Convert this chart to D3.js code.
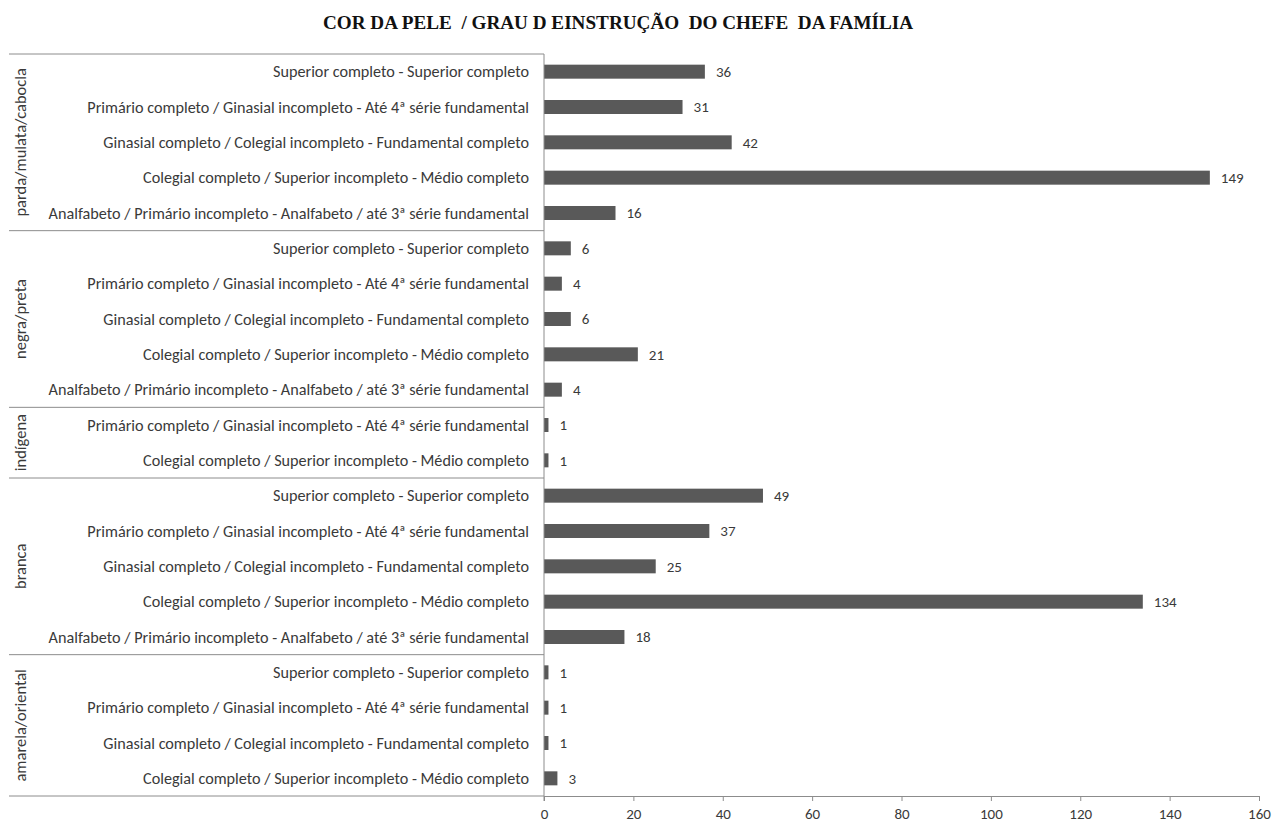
<!DOCTYPE html>
<html><head><meta charset="utf-8">
<script src="https://cdn.jsdelivr.net/npm/d3@7"></script>
<style>body{margin:0;background:#fff}svg{display:block}</style>
</head><body><svg id="c" width="1274" height="823"></svg>
<script>
const title = "COR DA PELE  / GRAU D EINSTRUÇÃO  DO CHEFE  DA FAMÍLIA";
const groups = ["parda/mulata/cabocla", "negra/preta", "indígena", "branca", "amarela/oriental"];
const SUP = "Superior completo - Superior completo";
const PRI = "Primário completo / Ginasial incompleto - Até 4ª série fundamental";
const GIN = "Ginasial completo / Colegial incompleto - Fundamental completo";
const COL = "Colegial completo / Superior incompleto - Médio completo";
const ANA = "Analfabeto / Primário incompleto - Analfabeto / até 3ª série fundamental";
const pardaCats = [SUP, PRI, GIN, COL, ANA];
const pardaVals = [36, 31, 42, 149, 16];
const negraCats = [SUP, PRI, GIN, COL, ANA];
const negraVals = [6, 4, 6, 21, 4];
const indigenaCats = [PRI, COL];
const indigenaVals = [1, 1];
const brancaCats = [SUP, PRI, GIN, COL, ANA];
const brancaVals = [49, 37, 25, 134, 18];
const amarelaCats = [SUP, PRI, GIN, COL];
const amarelaVals = [1, 1, 1, 3];
const xTicks = [0, 20, 40, 60, 80, 100, 120, 140, 160];

(function () {
const groupCats = [pardaCats, negraCats, indigenaCats, brancaCats, amarelaCats];
const groupVals = [pardaVals, negraVals, indigenaVals, brancaVals, amarelaVals];
const rows = [];
groups.forEach((g, gi) => groupCats[gi].forEach((c, ci) => rows.push({g, c, v: groupVals[gi][ci], key: g + "|" + c})));

const svg = d3.select("#c");
const pLeft = 544, pRight = 1259, pTop = 54, pBottom = 796, outerLeft = 9;
const x = d3.scaleLinear().domain([0, 160]).range([pLeft, pRight]);
const y = d3.scaleBand().domain(rows.map(r => r.key)).range([pTop, pBottom]).paddingInner(0.6).paddingOuter(0.3);
const step = y.step(), bw = y.bandwidth();
const cy = k => y(k) + bw / 2;
const font = "Calibri, Carlito, 'Open Sans', sans-serif";
const txt = "#3a3a3a";

svg.append("text").attr("x", 618).attr("y", 29).attr("text-anchor", "middle")
  .attr("font-family", "'Liberation Serif', 'Times New Roman', serif").attr("font-weight", "bold")
  .attr("font-size", 18.5).attr("fill", "#111").style("white-space", "pre")
  .attr("textLength", 590).attr("lengthAdjust", "spacingAndGlyphs").text(title);

svg.selectAll("rect.bar").data(rows).join("rect").attr("class", "bar")
  .attr("x", x(0)).attr("y", d => cy(d.key) - 7).attr("height", 14)
  .attr("width", d => x(d.v) - x(0)).attr("fill", "#595959");

svg.selectAll("text.val").data(rows).join("text").attr("class", "val")
  .attr("x", d => x(d.v) + 11).attr("y", d => cy(d.key))
  .attr("dy", "0.35em").attr("font-family", font).attr("font-size", 15).attr("fill", txt)
  .text(d => d.v);

svg.selectAll("text.cat").data(rows).join("text").attr("class", "cat")
  .attr("x", pLeft - 15).attr("y", d => cy(d.key))
  .attr("dy", "0.35em").attr("text-anchor", "end").attr("font-family", font)
  .attr("font-size", 16.2).attr("fill", txt).text(d => d.c);

const line = "#8c8c8c";
let idx = 0;
const bounds = [];
groups.forEach((g, gi) => {
  const first = rows[idx].key;
  const last = rows[idx + groupCats[gi].length - 1].key;
  idx += groupCats[gi].length;
  bounds.push({g, y0: cy(first) - step / 2, y1: cy(last) + step / 2});
});
svg.selectAll("line.sep").data(bounds.map(b => b.y0).concat([bounds[bounds.length - 1].y1])).join("line").attr("class", "sep")
  .attr("x1", outerLeft).attr("x2", pLeft).attr("y1", d => d).attr("y2", d => d)
  .attr("stroke", line).attr("stroke-width", 1);
svg.selectAll("text.grp").data(bounds).join("text").attr("class", "grp")
  .attr("transform", d => `translate(26,${(d.y0 + d.y1) / 2}) rotate(-90)`)
  .attr("text-anchor", "middle").attr("font-family", font).attr("font-size", 16.5).attr("fill", txt)
  .text(d => d.g);

const xAxis = d3.axisBottom(x).tickValues(xTicks).tickSize(5).tickPadding(7);
const gx = svg.append("g").attr("transform", `translate(0,${pBottom})`).call(xAxis);
gx.select(".domain").attr("stroke", line);
gx.selectAll(".tick line").attr("stroke", line);
gx.selectAll(".tick text").attr("font-family", font).attr("font-size", 15).attr("fill", txt);
svg.append("line").attr("x1", pLeft).attr("x2", pLeft).attr("y1", pTop).attr("y2", pBottom + 5)
  .attr("stroke", line);
})();
</script></body></html>
